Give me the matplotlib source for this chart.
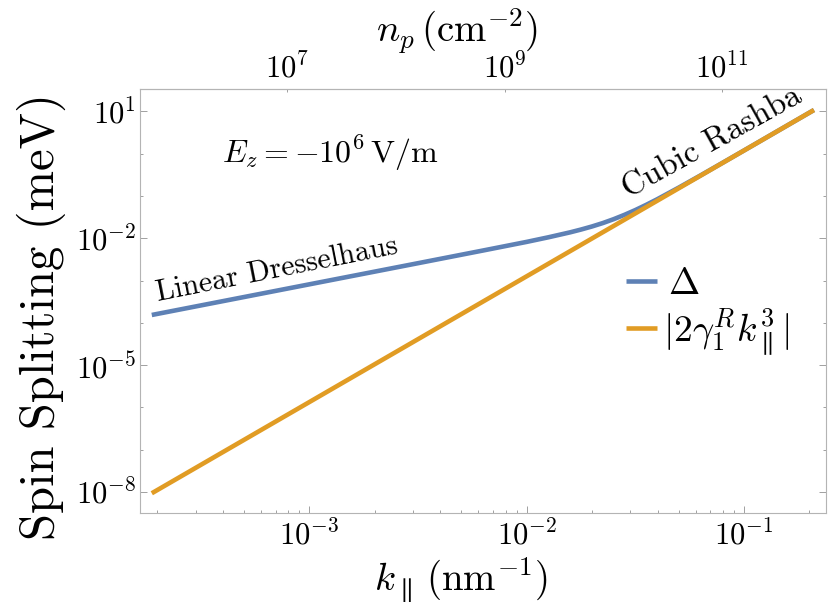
import numpy as np
import matplotlib
matplotlib.use("Agg")
import matplotlib.pyplot as plt
from matplotlib.ticker import FixedLocator, NullFormatter, LogLocator, NullLocator

plt.rcParams['font.family'] = 'serif'
plt.rcParams['font.serif'] = ['cmr10', 'DejaVu Serif']
plt.rcParams['mathtext.fontset'] = 'cm'
plt.rcParams['axes.unicode_minus'] = False
plt.rcParams['axes.formatter.use_mathtext'] = True

# ---- data ----
k_delta = [1.884e-4, 1.0e-3, 3.162e-3, 6.31e-3, 0.01, 0.01259, 0.01585, 0.01778,
           0.01995, 0.02239, 0.02512, 0.02818, 0.03162, 0.03548, 0.03981,
           0.05012, 0.0631, 0.07943, 0.1, 0.2097]
delta = [1.538e-4, 8.166e-4, 2.582e-3, 5.164e-3, 8.241e-3, 0.01059, 0.01387,
         0.01614, 0.01905, 0.02296, 0.02838, 0.03597, 0.04667, 0.06201,
         0.08375, 0.1589, 0.3083, 0.6067, 1.199, 10.84]
k_cubic = [1.884e-4, 0.2097]
cubic = [9.333e-9, 10.84]

x_major = [1e-3, 1e-2, 1e-1]
y_major = [1e1, 1e-2, 1e-5, 1e-8]
y_minor = [1e1, 1e0, 1e-1, 1e-2, 1e-3, 1e-4, 1e-5, 1e-6, 1e-7, 1e-8]
np_ticks = [1e7, 1e9, 1e11]

blue = '#5E81B5'
orange = '#E19C24'
spine_c = '#b4b4b4'
tick_c = '#a0a0a0'

fig = plt.figure(figsize=(8.3, 6.04), dpi=100)
ax = fig.add_axes([140/830, 1-513.3/604, (826-140)/830, (513.3-89.3)/604])

ax.plot(k_delta, delta, color=blue, lw=3.3, label=r'$\,\Delta$', solid_capstyle='butt')
ax.plot(k_cubic, cubic, color=orange, lw=3.3, label=r'$|2\gamma_1^R k_\parallel^3|$', solid_capstyle='butt')

ax.set_xscale('log')
ax.set_yscale('log')
ax.set_xlim(1.663e-4, 0.2382)
ax.set_ylim(3.133e-9, 33.5)

ax.xaxis.set_major_locator(FixedLocator(x_major))
ax.xaxis.set_minor_locator(LogLocator(base=10, subs=np.arange(2, 10)))
ax.xaxis.set_minor_formatter(NullFormatter())
ax.yaxis.set_major_locator(FixedLocator(y_major))
ax.yaxis.set_minor_locator(FixedLocator(y_minor))
ax.yaxis.set_minor_formatter(NullFormatter())

for s in ax.spines.values():
    s.set_color(spine_c)
    s.set_linewidth(0.8)

ax.tick_params(which='both', direction='in', color=tick_c, width=0.7,
               top=False, right=True, labelsize=22)
ax.tick_params(which='major', length=5)
ax.tick_params(which='minor', length=2.5)
ax.tick_params(axis='x', pad=5)
ax.tick_params(axis='y', pad=3)

def fwd(k):
    return np.asarray(k) ** 2 * 1e14 / (2 * np.pi)

def inv(n):
    return np.sqrt(np.abs(np.asarray(n)) * 2 * np.pi / 1e14)

secax = ax.secondary_xaxis('top', functions=(fwd, inv))
secax.set_xscale('log')
secax.xaxis.set_major_locator(FixedLocator(np_ticks))
secax.xaxis.set_minor_locator(NullLocator())
secax.tick_params(direction='in', color=tick_c, width=0.7, length=2.5, labelsize=22, pad=4)
secax.spines['top'].set_color(spine_c)
secax.set_xlabel(r'$n_p\,(\mathrm{cm}^{-2})$', fontsize=28)
secax.xaxis.set_label_coords((457-140)/686, 1 + (89.3-42)/424, transform=ax.transAxes)

ax.set_xlabel(r'$k_\parallel\,(\mathrm{nm}^{-1})$', fontsize=28)
ax.xaxis.set_label_coords((461-140)/686, (513.3-555)/424, transform=ax.transAxes)
ax.set_ylabel('Spin Splitting (meV)', fontsize=35)
ax.yaxis.set_label_coords((66-140)/686, 1-(317-89.3)/424, transform=ax.transAxes)

ax.text(1.25e-3, 1.04, r'$E_z = -10^6\,\mathrm{V/m}$', fontsize=23,
        ha='center', va='center')
ax.text(7.10e-4, 1.78e-3, 'Linear Dresselhaus', fontsize=21.5, rotation=11.2,
        ha='center', va='center', rotation_mode='anchor')
ax.text(0.0711, 1.85, 'Cubic Rashba', fontsize=23.5, rotation=29,
        ha='center', va='center', rotation_mode='anchor')

leg = ax.legend(loc='center left', bbox_to_anchor=((626-140)/686, 1-(313-89.3)/424),
                frameon=False, fontsize=27, handlelength=0.83, handletextpad=0.15,
                labelspacing=0.15, borderpad=0, borderaxespad=0)

fig.savefig('out.png', dpi=100)
